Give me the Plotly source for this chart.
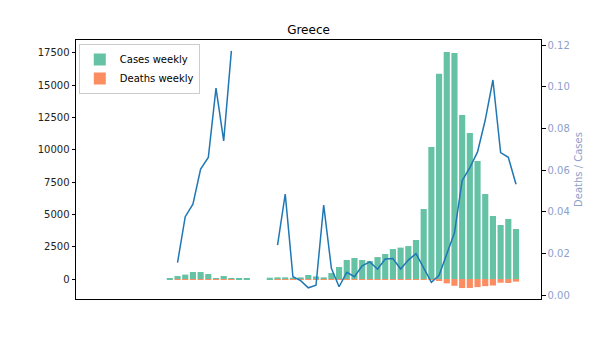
import plotly.graph_objects as go
import numpy as np

weeks = list(range(46))
cases_weekly = [70, 230, 340, 540, 540, 390, 80, 230, 70, 70, 70, 0, 0, 100, 130, 130,
                100, 130, 310, 200, 130, 460, 930, 1470, 1630, 1470, 1390, 1700, 1940, 2320,
                2430, 2550, 3020, 5420, 10220, 15900, 17580, 17500, 12700, 11300, 9140, 6580,
                4880, 4180, 4650, 3870]
deaths_weekly = [0, 4, 13, 24, 33, 26, 8, 17, 8, 0, 0, 0, 0, 0, 3, 6,
                 1, 1, 1, 1, 6, 6, 4, 16, 15, 21, 22, 21, 34, 41,
                 31, 43, 60, 71, 63, 153, 339, 525, 700, 693, 629, 553,
                 503, 286, 308, 206]
nan = None
ratio = [nan, 0.0157, 0.0377, 0.0437, 0.0606, 0.0661, 0.0994, 0.0741, 0.1173, nan, nan, nan, nan, nan,
         0.0241, 0.0486, 0.0089, 0.0070, 0.0036, 0.0048, 0.0433, 0.0130, 0.0041, 0.0110, 0.0089,
         0.0141, 0.0160, 0.0125, 0.0174, 0.0176, 0.0126, 0.0169, 0.0200, 0.0131, 0.0062, 0.0096,
         0.0193, 0.0300, 0.0550, 0.0613, 0.0688, 0.0841, 0.1033, 0.0685, 0.0662, 0.0533]

left_ticks = [0, 2500, 5000, 7500, 10000, 12500, 15000, 17500]
right_ticks = [0.00, 0.02, 0.04, 0.06, 0.08, 0.10, 0.12]

fig = go.Figure()
fig.add_trace(go.Bar(x=weeks, y=cases_weekly, name="Cases weekly", marker_color="#66c2a5",
                     marker_line_width=0, width=0.8))
fig.add_trace(go.Bar(x=weeks, y=[-d for d in deaths_weekly], name="Deaths weekly",
                     marker_color="#fc8d62", marker_line_width=0, width=0.8))
fig.add_trace(go.Scatter(x=weeks, y=ratio, mode="lines", line=dict(color="#1f77b4", width=1.5),
                         yaxis="y2", showlegend=False))

font = "DejaVu Sans"
fig.update_layout(
    width=600, height=337,
    margin=dict(l=76, r=59, t=40, b=38),
    paper_bgcolor="white", plot_bgcolor="white",
    barmode="relative",
    font=dict(family=font, size=10, color="black"),
    title=dict(text="Greece", x=(76 + 541) / 2 / 600, xanchor="center", y=1 - 30 / 337,
               yanchor="middle", font=dict(size=12, family=font, color="black")),
    xaxis=dict(range=[-12.2, 48.25], showticklabels=False, ticks="", showgrid=False,
               zeroline=False, showline=True, linecolor="black", linewidth=1, mirror=True),
    yaxis=dict(range=[-1548, 18506], tickvals=left_ticks, ticktext=[str(t) for t in left_ticks],
               ticks="outside", ticklen=3.5, tickcolor="black", showgrid=False, zeroline=False,
               showline=True, linecolor="black", linewidth=1, mirror=True,
               tickfont=dict(size=10, color="#222")),
    yaxis2=dict(range=[-0.00178, 0.1225], overlaying="y", side="right", tickvals=right_ticks,
                ticktext=[f"{t:.2f}" for t in right_ticks], ticks="outside", ticklen=3.5,
                tickcolor="black", showgrid=False, zeroline=False, showline=False,
                tickfont=dict(size=10, color="#8da0cb"),
                title=dict(text="Deaths / Cases", font=dict(size=10, color="#8da0cb"), standoff=6)),
    legend=dict(x=0.006, y=0.985, xanchor="left", yanchor="top", bgcolor="rgba(255,255,255,0.8)",
                bordercolor="#cccccc", borderwidth=1, font=dict(size=10), tracegroupgap=0,
                itemwidth=30),
)

fig.write_html("out.html")
